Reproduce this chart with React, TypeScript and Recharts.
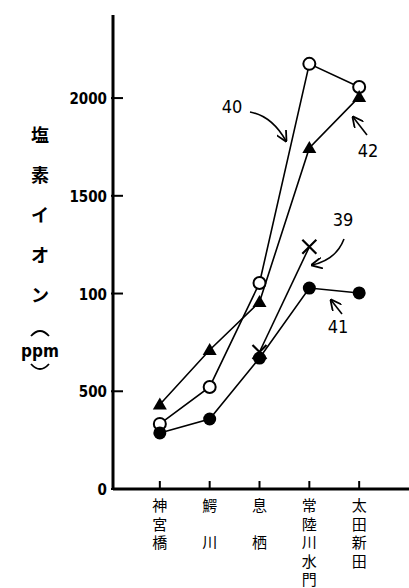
import { Line, LineChart, XAxis, YAxis } from "recharts";

const sites = ["神宮橋", "鰐　川", "息　栖", "常陸川水門", "太田新田"];
const yTicks = [0, 500, 1000, 1500, 2000];
const yTickLabels = ["0", "500", "100", "1500", "2000"];

// chloride ion (ppm) per station
const s40 = [333, 522, 1054, 2175, 2057];
const s42 = [432, 711, 957, 1745, 2006];
const s39 = [null, null, 701, 1239, null];
const s41 = [287, 358, 670, 1028, 1003];

const data = sites.map((_, i) => ({ i, s40: s40[i], s42: s42[i], s39: s39[i], s41: s41[i] }));

const numFont = "'DejaVu Sans Condensed', 'DejaVu Sans', sans-serif";
const jpFont = "'Noto Sans CJK JP', sans-serif";

function OpenDot(p: any) {
  if (p.cx == null || p.cy == null || p.value == null) return <g key={p.index} />;
  return <circle key={p.index} cx={p.cx} cy={p.cy} r={6} fill="#fff" stroke="#000" strokeWidth={2} />;
}
function FilledDot(p: any) {
  if (p.cx == null || p.cy == null || p.value == null) return <g key={p.index} />;
  return <circle key={p.index} cx={p.cx} cy={p.cy} r={6.5} fill="#000" />;
}
function TriDot(p: any) {
  if (p.cx == null || p.cy == null || p.value == null) return <g key={p.index} />;
  const { cx, cy } = p;
  return <path key={p.index} d={`M${cx},${cy - 7}L${cx - 7},${cy + 5}L${cx + 7},${cy + 5}Z`} fill="#000" />;
}
function CrossDot(p: any) {
  if (p.cx == null || p.cy == null || p.value == null) return <g key={p.index} />;
  const { cx, cy } = p;
  return (
    <path key={p.index} d={`M${cx - 7},${cy - 7}L${cx + 7},${cy + 7}M${cx + 7},${cy - 7}L${cx - 7},${cy + 7}`}
      stroke="#000" strokeWidth={2.2} />
  );
}

function YTick({ x, y, payload }: any) {
  const idx = yTicks.indexOf(payload.value);
  return (
    <g>
      <line x1={x - 2} x2={x + 10} y1={y} y2={y} stroke="#000" strokeWidth={2} />
      <text x={x - 6} y={y + 6} textAnchor="end" fontFamily={numFont} fontWeight="bold" fontSize={15} fill="#000">
        {yTickLabels[idx]}
      </text>
    </g>
  );
}

function XTick({ x, y, payload }: any) {
  const chars = Array.from(sites[payload.value] ?? "");
  return (
    <g>
      <line x1={x} x2={x} y1={y} y2={y - 8} stroke="#000" strokeWidth={2} />
      {chars.map((c, k) => (
        <text key={k} x={x} y={y + 22 + k * 18.5} textAnchor="middle" fontFamily={jpFont} fontSize={15} fill="#000">
          {c}
        </text>
      ))}
    </g>
  );
}

const yTitle = ["塩", "素", "イ", "オ", "ン"];

export default function App() {
  return (
    <div style={{ position: "absolute", left: 0, top: 0, width: 409, height: 588, background: "#fff" }}>
      <LineChart width={409} height={588} data={data} margin={{ top: 15, right: 0, left: 0, bottom: 0 }}>
        <XAxis dataKey="i" type="number" domain={[-0.94, 5]} ticks={[0, 1, 2, 3, 4]} height={99}
          tickSize={0} tickMargin={0} tick={<XTick />} axisLine={{ stroke: "#000", strokeWidth: 3 }} interval={0} />
        <YAxis type="number" domain={[0, 2425]} ticks={yTicks} width={113} tickSize={0} tickMargin={0}
          tick={<YTick />} axisLine={{ stroke: "#000", strokeWidth: 3 }} interval={0} />
        <Line dataKey="s40" stroke="#000" strokeWidth={1.6} dot={OpenDot} isAnimationActive={false} />
        <Line dataKey="s42" stroke="#000" strokeWidth={1.6} dot={TriDot} isAnimationActive={false} />
        <Line dataKey="s39" stroke="#000" strokeWidth={1.6} dot={CrossDot} isAnimationActive={false} />
        <Line dataKey="s41" stroke="#000" strokeWidth={1.6} dot={FilledDot} isAnimationActive={false} />
      </LineChart>
      <svg width={409} height={588} style={{ position: "absolute", left: 0, top: 0, pointerEvents: "none" }}>
        <defs>
          <marker id="ah" viewBox="0 0 10 10" refX="9" refY="5" markerWidth="7" markerHeight="7" orient="auto">
            <path d="M0,0L10,5L0,10" fill="none" stroke="#000" strokeWidth={1.6} />
          </marker>
        </defs>
        {yTitle.map((c, k) => (
          <text key={c} x={40} y={142 + k * 40} textAnchor="middle" fontFamily={jpFont} fontWeight="bold" fontSize={18}>
            {c}
          </text>
        ))}
        <path d="M31,336 Q40,326 49,336" fill="none" stroke="#000" strokeWidth={1.8} />
        <text x={40} y={357} textAnchor="middle" fontFamily={numFont} fontWeight="bold" fontSize={17}>ppm</text>
        <path d="M31,364 Q40,374 49,364" fill="none" stroke="#000" strokeWidth={1.8} />

        <text x={232} y={113} textAnchor="middle" fontFamily={numFont} fontSize={18}>40</text>
        <path d="M250,112 Q272,116 286,141" fill="none" stroke="#000" strokeWidth={1.6} markerEnd="url(#ah)" />
        <text x={368} y={157} textAnchor="middle" fontFamily={numFont} fontSize={18}>42</text>
        <path d="M367,135 L353,117" fill="none" stroke="#000" strokeWidth={1.6} markerEnd="url(#ah)" />
        <text x={343} y={226} textAnchor="middle" fontFamily={numFont} fontSize={18}>39</text>
        <path d="M344,239 Q336,260 312,265" fill="none" stroke="#000" strokeWidth={1.6} markerEnd="url(#ah)" />
        <text x={338} y={333} textAnchor="middle" fontFamily={numFont} fontSize={18}>41</text>
        <path d="M342,314 L331,300" fill="none" stroke="#000" strokeWidth={1.6} markerEnd="url(#ah)" />
      </svg>
    </div>
  );
}
